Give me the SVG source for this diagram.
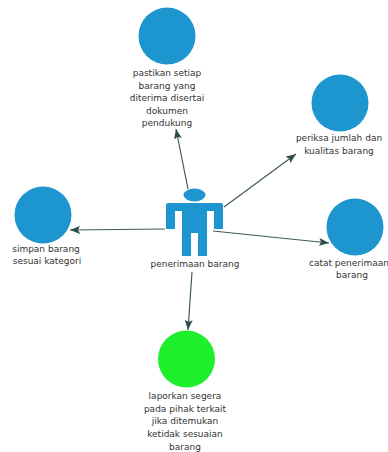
<svg xmlns="http://www.w3.org/2000/svg" width="388" height="452" viewBox="0 0 388 452">
<style>
.n{fill:#1d95cf}
.g{fill:#1fee2c}
.l{stroke:#3f5a5a;stroke-width:1.2;fill:none;marker-end:url(#a)}
text{font-family:"DejaVu Sans",sans-serif;font-size:9px;fill:#333;text-anchor:middle}
</style>
<defs><marker id="a" viewBox="0 0 10 8" refX="10" refY="4" markerWidth="10" markerHeight="8" markerUnits="userSpaceOnUse" orient="auto"><path d="M0 0L10 4L0 8L2 4Z" fill="#2f4f4f"/></marker></defs>
<rect width="388" height="452" fill="#fff"/>
<g id="connectors">
<line class="l" x1="188" y1="189" x2="176" y2="129"/>
<line class="l" x1="224" y1="207" x2="296" y2="154"/>
<line class="l" x1="213" y1="231" x2="329" y2="243"/>
<line class="l" x1="165" y1="229" x2="70" y2="230"/>
<line class="l" x1="192" y1="272" x2="188" y2="330"/>
</g>
<g id="n1"><circle class="n" cx="167" cy="36" r="28.5"/>
<text x="167" y="76">pastikan setiap</text><text x="167" y="88.500">barang yang</text><text x="167" y="101">diterima disertai</text><text x="167" y="113.500">dokumen</text><text x="167" y="126">pendukung</text></g>
<g id="n2"><circle class="n" cx="340" cy="103" r="28.5"/>
<text x="339" y="141">periksa jumlah dan</text><text x="339" y="154">kualitas barang</text></g>
<g id="n3"><circle class="n" cx="355" cy="227" r="28.5"/>
<text x="349" y="266">catat penerimaan</text><text x="352" y="278">barang</text></g>
<g id="n4"><circle class="n" cx="43" cy="215" r="28.5"/>
<text x="46" y="252">simpan barang</text><text x="47" y="264">sesuai kategori</text></g>
<g id="n5"><circle class="g" cx="186.500" cy="359" r="28.5"/>
<text x="185" y="399">laporkan segera</text><text x="185" y="411.500">pada pihak terkait</text><text x="185" y="424">jika ditemukan</text><text x="185" y="437">ketidak sesuaian</text><text x="185" y="450">barang</text></g>
<g id="actor"><ellipse class="n" cx="194.500" cy="195" rx="11" ry="6.500"/>
<path class="n" d="M168 203H221Q223 203 223 205V229H214V211H207V256H198V233H191V256H182V211H175V229H166V205Q166 203 168 203Z"/>
<text x="195" y="267">penerimaan barang</text></g>
</svg>
